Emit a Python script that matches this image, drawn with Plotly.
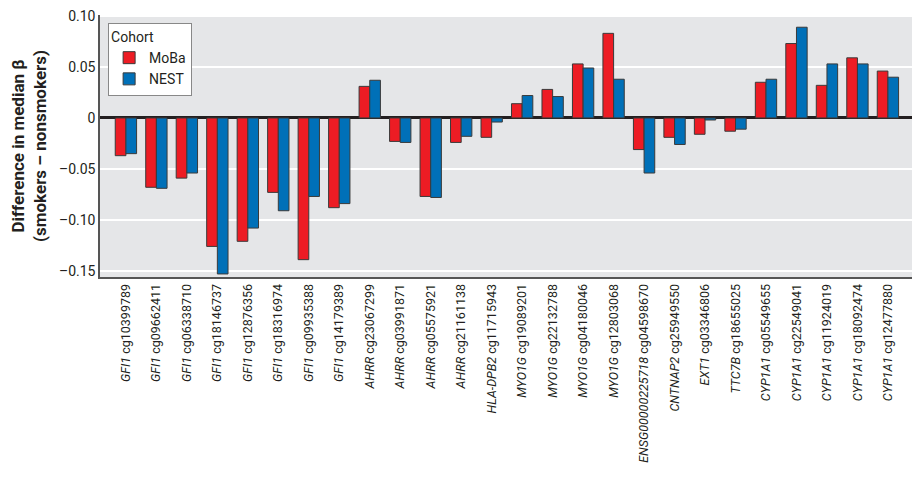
import plotly.graph_objects as go

genes = ['GFI1', 'GFI1', 'GFI1', 'GFI1', 'GFI1', 'GFI1', 'GFI1', 'GFI1',
         'AHRR', 'AHRR', 'AHRR', 'AHRR', 'HLA-DPB2',
         'MYO1G', 'MYO1G', 'MYO1G', 'MYO1G', 'ENSG00000225718',
         'CNTNAP2', 'EXT1', 'TTC7B',
         'CYP1A1', 'CYP1A1', 'CYP1A1', 'CYP1A1', 'CYP1A1']
cpgs = ['cg10399789', 'cg09662411', 'cg06338710', 'cg18146737', 'cg12876356',
        'cg18316974', 'cg09935388', 'cg14179389', 'cg23067299', 'cg03991871',
        'cg05575921', 'cg21161138', 'cg11715943', 'cg19089201', 'cg22132788',
        'cg04180046', 'cg12803068', 'cg04598670', 'cg25949550', 'cg03346806',
        'cg18655025', 'cg05549655', 'cg22549041', 'cg11924019', 'cg18092474',
        'cg12477880']
moba = [-0.037, -0.068, -0.059, -0.126, -0.121, -0.073, -0.139, -0.088,
        0.031, -0.023, -0.077, -0.024, -0.019,
        0.014, 0.028, 0.053, 0.083, -0.031,
        -0.019, -0.016, -0.013,
        0.035, 0.073, 0.032, 0.059, 0.046]
nest = [-0.035, -0.069, -0.054, -0.153, -0.108, -0.091, -0.077, -0.084,
        0.037, -0.024, -0.078, -0.018, -0.004,
        0.022, 0.021, 0.049, 0.038, -0.054,
        -0.026, -0.002, -0.011,
        0.038, 0.089, 0.053, 0.053, 0.040]

ytick_vals = [0.10, 0.05, 0, -0.05, -0.10, -0.15]
ytick_text = ['0.10', '0.05', '0', '\u20130.05', '\u20130.10', '\u20130.15']

labels = ['<i>%s</i> %s' % (g, c) for g, c in zip(genes, cpgs)]
idx = list(range(len(labels)))

FONT = 'Roboto, Arial, sans-serif'
outline = dict(color='#3a3a3a', width=1)

fig = go.Figure()
fig.add_trace(go.Bar(x=idx, y=moba, name='MoBa',
                     marker=dict(color='#ED1C24', line=outline)))
fig.add_trace(go.Bar(x=idx, y=nest, name='NEST',
                     marker=dict(color='#0070B8', line=outline)))

fig.update_layout(
    width=918, height=480,
    margin=dict(l=100, r=6, t=15, b=203),
    barmode='group', bargap=0.3, bargroupgap=0,
    plot_bgcolor='#E5E6E8', paper_bgcolor='white',
    font=dict(family=FONT, size=14, color='#231F20'),
    legend=dict(title=dict(text='Cohort', font=dict(size=14)),
                x=0.01, y=0.97, xanchor='left', yanchor='top',
                bgcolor='white', bordercolor='#888', borderwidth=1,
                font=dict(size=14), itemwidth=30, tracegroupgap=0),
    showlegend=True,
)
fig.update_xaxes(
    tickmode='array', tickvals=idx, ticktext=labels, tickangle=-90,
    tickfont=dict(size=12.5), range=[-0.85, 25.79], automargin=False,
    showgrid=False, showline=True, linecolor='#555', linewidth=2,
    ticks='', zeroline=False,
)
fig.update_yaxes(
    range=[-0.156, 0.101], tickmode='array', tickvals=ytick_vals,
    ticktext=ytick_text, tickfont=dict(size=14), automargin=False,
    showgrid=True, gridcolor='white', gridwidth=1.5,
    zeroline=True, zerolinecolor='#231F20', zerolinewidth=2.5,
    showline=True, linecolor='#555', linewidth=1.5, ticks='',
    title=dict(text='<b>Difference in median \u03b2<br>(smokers \u2013 nonsmokers)</b>',
               font=dict(size=17), standoff=8),
)

# page has a default 8px body margin, drop it so the figure sits at 0,0
fig.write_html("out.html", config={'displayModeBar': False},
               post_script="document.body.style.margin='0';")
